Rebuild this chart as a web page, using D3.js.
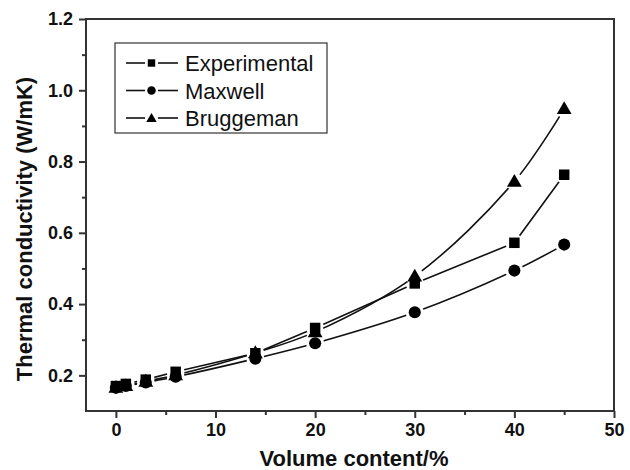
<!DOCTYPE html>
<html>
<head>
<meta charset="utf-8">
<script src="https://cdn.jsdelivr.net/npm/d3@7"></script>
<style>
  body { margin: 0; background: #fff; }
  svg text { font-family: "Liberation Sans", Arial, sans-serif; }
</style>
</head>
<body>
<div id="chart-area"></div>
<script>
// data
var volume = [0, 1, 3, 6, 14, 20, 30, 40, 45];
var experimental = [0.170, 0.176, 0.188, 0.210, 0.262, 0.333, 0.458, 0.572, 0.763];
var maxwell = [0.165, 0.170, 0.180, 0.196, 0.247, 0.290, 0.377, 0.494, 0.567];
var bruggeman = [0.166, 0.171, 0.183, 0.201, 0.263, 0.322, 0.478, 0.744, 0.948];
var seriesNames = ["Experimental", "Maxwell", "Bruggeman"];
var xTicks = [0, 10, 20, 30, 40, 50];
var yTicks = [0.2, 0.4, 0.6, 0.8, 1.0, 1.2];

var width = 630, height = 470;
var margin = {top: 19, right: 16, bottom: 59, left: 86};
var chartWidth = width - margin.left - margin.right;
var chartHeight = height - margin.top - margin.bottom;

var svg = d3.select("#chart-area").append("svg").attr("width", width).attr("height", height);
var graph = svg.append("g").attr("transform", "translate(" + margin.left + "," + margin.top + ")");

var x = d3.scaleLinear().domain([-3, 50]).range([0, chartWidth]);
var y = d3.scaleLinear().domain([0.1, 1.2]).range([chartHeight, 0]);

// frame
graph.append("rect").attr("width", chartWidth).attr("height", chartHeight)
    .attr("fill", "none").attr("stroke", "#333").attr("stroke-width", 2);

// axes (major + minor ticks, outward)
var xAxis = d3.axisBottom(x).tickValues(xTicks).tickSize(7).tickPadding(5).tickFormat(d3.format("d"));
var xMinor = d3.axisBottom(x).tickValues([5, 15, 25, 35, 45]).tickSize(4).tickFormat("");
var yAxis = d3.axisLeft(y).tickValues(yTicks).tickSize(7).tickPadding(6).tickFormat(d3.format(".1f"));
var yMinor = d3.axisLeft(y).tickValues([0.3, 0.5, 0.7, 0.9, 1.1]).tickSize(4).tickFormat("");

[[xAxis, "x"], [xMinor, "x"], [yAxis, "y"], [yMinor, "y"]].forEach(function(a) {
    var g = graph.append("g");
    if (a[1] == "x") g.attr("transform", "translate(0," + chartHeight + ")");
    g.call(a[0]);
    g.select(".domain").remove();
    g.selectAll("line").attr("stroke", "#333").attr("stroke-width", 2);
    g.selectAll("text").attr("font-size", "18px").attr("font-weight", "bold").attr("fill", "#111");
});

graph.append("text").attr("x", 268).attr("y", chartHeight + 55)
    .attr("text-anchor", "middle").attr("font-size", "22px").attr("font-weight", "bold")
    .attr("fill", "#111").text("Volume content/%");

graph.append("text").attr("transform", "rotate(-90)").attr("x", -chartHeight / 2 - 14).attr("y", -54)
    .attr("text-anchor", "middle").attr("font-size", "22px").attr("font-weight", "bold")
    .attr("fill", "#111").text("Thermal conductivity (W/mK)");

// markers; experimental is joined by straight segments, the models by smooth curves
var symbols = [d3.symbolSquare, d3.symbolCircle, d3.symbolTriangle];
var symSizes = [110, 115, 95];
var curves = [d3.curveLinear, d3.curveCatmullRom.alpha(0.5), d3.curveCatmullRom.alpha(0.5)];
var allSeries = [experimental, maxwell, bruggeman];

var defs = svg.append("defs");

allSeries.forEach(function(vals, s) {
    var line = d3.line().x(function(d, i) { return x(volume[i]); }).y(function(d) { return y(d); })
        .curve(curves[s]);

    // gap around the markers, like the original plot
    var mask = defs.append("mask").attr("id", "gap" + s).attr("maskUnits", "userSpaceOnUse")
        .attr("x", -margin.left).attr("y", -margin.top).attr("width", width).attr("height", height);
    mask.append("rect").attr("x", -margin.left).attr("y", -margin.top)
        .attr("width", width).attr("height", height).attr("fill", "#fff");
    mask.selectAll("circle").data(vals).enter().append("circle")
        .attr("cx", function(d, i) { return x(volume[i]); }).attr("cy", function(d) { return y(d); })
        .attr("r", 9).attr("fill", "#000");

    graph.append("path").datum(vals).attr("d", line).attr("fill", "none")
        .attr("stroke", "#111").attr("stroke-width", 1.6).attr("mask", "url(#gap" + s + ")");

    graph.selectAll(".m" + s).data(vals).enter().append("path").attr("class", "m" + s)
        .attr("d", d3.symbol().type(symbols[s]).size(symSizes[s]))
        .attr("transform", function(d, i) {
            return "translate(" + x(volume[i]) + "," + (y(d) + (s == 2 ? 1 : 0)) + ")";
        })
        .attr("fill", "#000");
});

// legend
var legend = graph.append("g").attr("transform", "translate(29,24)");
legend.append("rect").attr("width", 212).attr("height", 90)
    .attr("fill", "#fff").attr("stroke", "#333").attr("stroke-width", 1.2);
seriesNames.forEach(function(name, s) {
    var row = legend.append("g").attr("transform", "translate(0," + (20 + s * 27.5) + ")");
    row.append("line").attr("x1", 11).attr("x2", 30).attr("stroke", "#111").attr("stroke-width", 1.6);
    row.append("line").attr("x1", 43).attr("x2", 63).attr("stroke", "#111").attr("stroke-width", 1.6);
    row.append("path").attr("d", d3.symbol().type(symbols[s]).size(symSizes[s] * 0.5))
        .attr("transform", "translate(36.5," + (s == 2 ? 1 : 0) + ")").attr("fill", "#000");
    row.append("text").attr("x", 70).attr("y", 8).attr("font-size", "22px")
        .attr("fill", "#111").text(name);
});
</script>
</body>
</html>
